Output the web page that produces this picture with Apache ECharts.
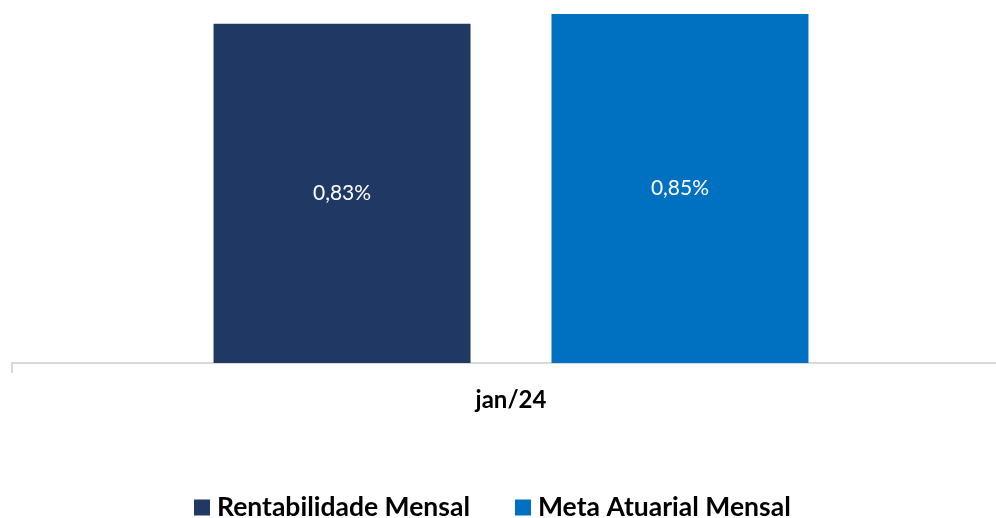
<!DOCTYPE html>
<html><head><meta charset="utf-8">
<script src="https://cdn.jsdelivr.net/npm/echarts@6/dist/echarts.min.js"></script>
<style>html,body{margin:0;padding:0;background:#fff}#c{width:996px;height:518px}</style>
</head><body><div id="c"></div>
<script>
var categories = ['jan/24'];
var seriesNames = ['Rentabilidade Mensal', 'Meta Atuarial Mensal'];
var rentabilidade = [0.826];
var metaAtuarial = [0.85];
var colors = ['#203864', '#0070c0'];

var chart = echarts.init(document.getElementById('c'));
function lbl(p){ return p.value.toFixed(2).replace('.', ',') + '%'; }
chart.setOption({
  animation: false,
  grid: { left: 12, width: 998, top: 14, bottom: 155, containLabel: false, outerBoundsMode: 'none' },
  legend: {
    top: 494, left: 194, padding: 0,
    itemWidth: 16, itemHeight: 16, itemGap: 45,
    icon: 'rect',
    textStyle: { fontFamily: 'Lato', fontWeight: 'bold', fontSize: 26.5, color: '#000', padding: [0, 0, 0, 2] },
    data: seriesNames
  },
  xAxis: {
    type: 'category', data: categories,
    axisLine: { lineStyle: { color: '#d9d9d9', width: 2 } },
    axisTick: { show: true, alignWithLabel: false, length: 10, lineStyle: { color: '#d9d9d9', width: 2 } },
    axisLabel: { fontFamily: 'Lato', fontWeight: 'bold', fontSize: 24, color: '#000', margin: 25 }
  },
  yAxis: { type: 'value', min: 0, max: 0.85, show: false, splitLine: { show: false } },
  series: [
    { name: seriesNames[0], type: 'bar', data: rentabilidade, barWidth: '25.75%', barGap: '31.5%',
      itemStyle: { color: colors[0] },
      label: { show: true, position: 'inside', color: '#fff', fontSize: 21, fontFamily: 'Lato', formatter: lbl } },
    { name: seriesNames[1], type: 'bar', data: metaAtuarial, barWidth: '25.75%',
      itemStyle: { color: colors[1] },
      label: { show: true, position: 'inside', color: '#fff', fontSize: 21, fontFamily: 'Lato', formatter: lbl } }
  ]
});
</script></body></html>
